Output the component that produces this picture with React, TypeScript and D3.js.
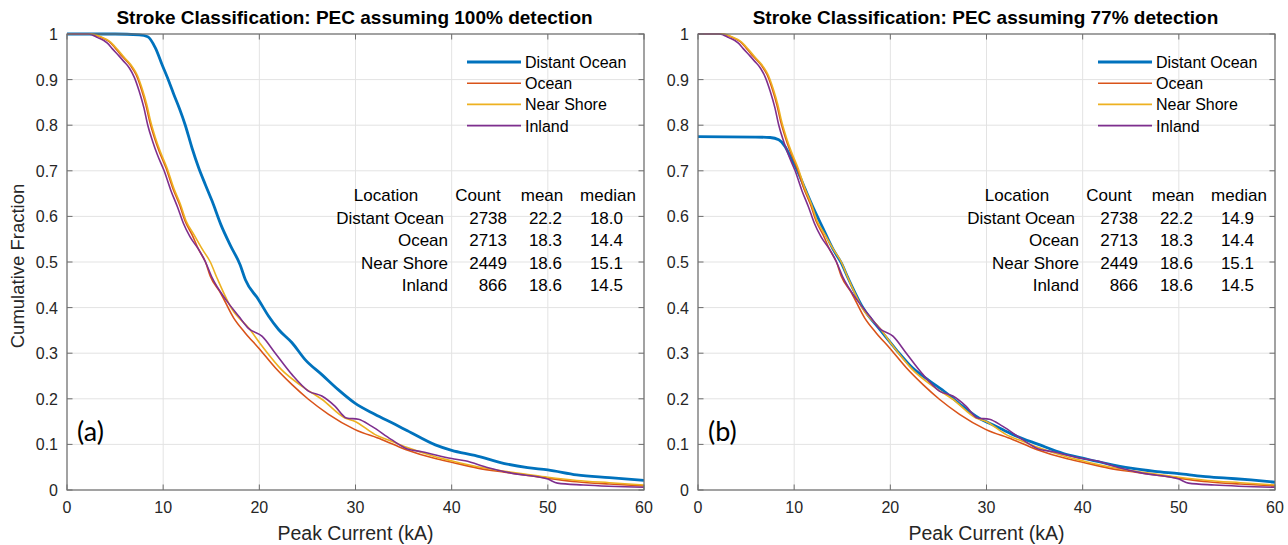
import React, { useEffect, useRef } from "react";
import * as d3 from "d3";

type Pt = [number, number];

const seriesNames = ["Distant Ocean", "Ocean", "Near Shore", "Inland"];
const seriesColors = ["#0072BD", "#D95319", "#EDB120", "#7E2F8E"];

const xTicks = [0, 10, 20, 30, 40, 50, 60];
const yTicks = [0, 0.1, 0.2, 0.3, 0.4, 0.5, 0.6, 0.7, 0.8, 0.9, 1];

const distantOcean100: Pt[] = [
  [0, 1], [5, 1], [7.5, 0.998], [8.4, 0.994], [9.2, 0.969], [9.9, 0.932], [10.6, 0.896], [11.1, 0.868],
  [11.7, 0.836], [12.3, 0.8], [13.0, 0.75], [13.7, 0.706], [14.4, 0.669], [15.1, 0.633], [16.0, 0.582],
  [17.0, 0.536], [18.0, 0.494], [18.55, 0.461], [19.9, 0.418], [20.97, 0.381], [22.0, 0.352], [23.4, 0.323],
  [24.76, 0.286], [26.5, 0.253], [28.2, 0.22], [29.9, 0.191], [32.0, 0.166], [34.1, 0.144], [35.4, 0.13],
  [38.3, 0.099], [40, 0.087], [42.4, 0.076], [45.5, 0.058], [47.9, 0.049], [50, 0.044], [53, 0.033],
  [56.4, 0.027], [60, 0.021],
];

const distantOcean77: Pt[] = [
  [0, 0.775], [6, 0.774], [7.5, 0.773], [8.4, 0.768], [9.07, 0.753], [9.6, 0.731], [10.3, 0.702], [11.1, 0.662],
  [12.0, 0.618], [13.0, 0.574], [14.07, 0.527], [14.9, 0.498], [15.6, 0.465], [17.17, 0.399], [18.9, 0.352],
  [20.6, 0.308], [22.3, 0.268], [24.1, 0.239], [25.8, 0.213], [27.5, 0.184], [29.2, 0.158], [30.97, 0.14],
  [32.7, 0.122], [35.4, 0.1], [38, 0.08], [40, 0.07], [42.5, 0.058], [45, 0.048], [47.5, 0.041], [50, 0.036],
  [52.5, 0.03], [55, 0.026], [57.5, 0.022], [60, 0.017],
];

const ocean: Pt[] = [
  [0, 1], [2.5, 1], [3.4, 0.994], [4.4, 0.983], [4.9, 0.972], [5.6, 0.954], [6.1, 0.943], [6.7, 0.928],
  [7.2, 0.91], [7.7, 0.881], [8.2, 0.845], [8.6, 0.808], [9.1, 0.772], [9.6, 0.742], [10.3, 0.706], [11.0, 0.662],
  [11.7, 0.626], [12.3, 0.589], [13.0, 0.56], [13.7, 0.527], [14.4, 0.5], [14.9, 0.469], [15.97, 0.432],
  [17.34, 0.377], [18.55, 0.344], [19.9, 0.312], [21.66, 0.268], [23.4, 0.231], [25.1, 0.199], [27.2, 0.166],
  [29.9, 0.133], [32.7, 0.111], [35.2, 0.089], [38.3, 0.069], [40, 0.061], [42.7, 0.048], [45.5, 0.039],
  [47.9, 0.032], [50, 0.026], [53, 0.018], [56.4, 0.013], [60, 0.009],
];

const nearShore: Pt[] = [
  [0, 1], [2.6, 1], [3.5, 0.994], [4.5, 0.983], [5.0, 0.972], [5.7, 0.955], [6.2, 0.943], [6.8, 0.928],
  [7.3, 0.91], [7.8, 0.881], [8.3, 0.845], [8.7, 0.808], [9.2, 0.772], [9.7, 0.742], [10.4, 0.706], [11.1, 0.662],
  [11.8, 0.626], [12.4, 0.589], [13.2, 0.56], [14.1, 0.527], [14.9, 0.5], [15.6, 0.465], [17.17, 0.396],
  [18.9, 0.355], [20.3, 0.315], [22.3, 0.264], [24.4, 0.228], [26.5, 0.199], [28.9, 0.158], [29.9, 0.151],
  [32.0, 0.122], [34.1, 0.104], [35.4, 0.093], [38.3, 0.073], [40, 0.064], [42.7, 0.051], [45.5, 0.041],
  [47.9, 0.034], [50, 0.028], [53, 0.021], [56.4, 0.016], [60, 0.011],
];

const inland: Pt[] = [
  [0, 1], [2.2, 1], [3.2, 0.992], [4.2, 0.98], [4.7, 0.968], [5.4, 0.952], [5.9, 0.94], [6.5, 0.925],
  [7.0, 0.905], [7.5, 0.875], [8.0, 0.838], [8.4, 0.8], [8.9, 0.765], [9.4, 0.735], [10.1, 0.7], [10.8, 0.657],
  [11.5, 0.62], [12.1, 0.585], [12.8, 0.555], [13.7, 0.527], [14.4, 0.5], [15.1, 0.465], [16.5, 0.418],
  [17.86, 0.381], [18.9, 0.354], [20.3, 0.337], [21.66, 0.3], [23.4, 0.253], [25.1, 0.217], [26.5, 0.206],
  [27.86, 0.184], [29.07, 0.158], [30.3, 0.155], [31.66, 0.14], [33.7, 0.111], [35.4, 0.09], [36.9, 0.084],
  [40, 0.069], [41.4, 0.064], [43.8, 0.049], [46.2, 0.037], [50, 0.024], [51, 0.015], [53.7, 0.011], [60, 0.006],
];

const tableHeaders = ["Location", "Count", "mean", "median"];
const tableLocations = ["Distant Ocean", "Ocean", "Near Shore", "Inland"];
const tableCounts = ["2738", "2713", "2449", "866"];
const tableMeans = ["22.2", "18.3", "18.6", "18.6"];
const tableMedians100 = ["18.0", "14.4", "15.1", "14.5"];
const tableMedians77 = ["14.9", "14.4", "15.1", "14.5"];

const panelTitles = [
  "Stroke Classification: PEC assuming 100% detection",
  "Stroke Classification: PEC assuming 77% detection",
];
const panelLetters = ["(a)", "(b)"];
const xLabel = "Peak Current (kA)";
const yLabel = "Cumulative Fraction";

const FONT = "'Liberation Sans', Arial, Helvetica, sans-serif";

export default function App() {
  const ref = useRef<SVGSVGElement>(null);

  useEffect(() => {
    const svg = d3.select(ref.current);
    svg.selectAll("*").remove();
    svg.append("rect").attr("width", 1288).attr("height", 545).attr("fill", "#fff");

    const panels = [
      { left: 67, series: [distantOcean100, ocean, nearShore, inland], medians: tableMedians100 },
      { left: 698, series: [distantOcean77, ocean, nearShore, inland], medians: tableMedians77 },
    ];
    const W = 577;
    const top = 34;
    const bottom = 490;

    panels.forEach((p, pi) => {
      const x = d3.scaleLinear().domain([0, 60]).range([p.left, p.left + W]);
      const y = d3.scaleLinear().domain([0, 1]).range([bottom, top]);
      const g = svg.append("g");

      g.selectAll(".gx").data(xTicks).enter().append("line")
        .attr("x1", (d) => x(d)).attr("x2", (d) => x(d)).attr("y1", top).attr("y2", bottom)
        .attr("stroke", "#e3e3e3").attr("stroke-width", 1);
      g.selectAll(".gy").data(yTicks).enter().append("line")
        .attr("x1", p.left).attr("x2", p.left + W).attr("y1", (d) => y(d)).attr("y2", (d) => y(d))
        .attr("stroke", "#e3e3e3").attr("stroke-width", 1);

      const line = d3.line<Pt>().x((d) => x(d[0])).y((d) => y(d[1])).curve(d3.curveMonotoneX);
      const clipId = `clip${pi}`;
      svg.append("clipPath").attr("id", clipId).append("rect")
        .attr("x", p.left).attr("y", top - 2).attr("width", W).attr("height", bottom - top + 2);
      p.series.forEach((s, si) => {
        g.append("path").datum(s).attr("d", line).attr("fill", "none")
          .attr("clip-path", `url(#${clipId})`)
          .attr("stroke", seriesColors[si]).attr("stroke-width", si === 0 ? 2.8 : 1.6)
          .attr("stroke-linejoin", "round");
      });

      g.append("rect").attr("x", p.left).attr("y", top).attr("width", W).attr("height", bottom - top)
        .attr("fill", "none").attr("stroke", "#6e6e6e").attr("stroke-width", 1.2);

      const tl = 5.5;
      xTicks.forEach((t) => {
        g.append("line").attr("x1", x(t)).attr("x2", x(t)).attr("y1", bottom).attr("y2", bottom - tl).attr("stroke", "#6e6e6e");
        g.append("line").attr("x1", x(t)).attr("x2", x(t)).attr("y1", top).attr("y2", top + tl).attr("stroke", "#6e6e6e");
        g.append("text").attr("x", x(t)).attr("y", bottom + 23).attr("text-anchor", "middle")
          .attr("font-family", FONT).attr("font-size", 16).attr("fill", "#262626").text(String(t));
      });
      yTicks.forEach((t) => {
        g.append("line").attr("x1", p.left).attr("x2", p.left + tl).attr("y1", y(t)).attr("y2", y(t)).attr("stroke", "#6e6e6e");
        g.append("line").attr("x1", p.left + W).attr("x2", p.left + W - tl).attr("y1", y(t)).attr("y2", y(t)).attr("stroke", "#6e6e6e");
        g.append("text").attr("x", p.left - 9).attr("y", y(t) + 6).attr("text-anchor", "end")
          .attr("font-family", FONT).attr("font-size", 16).attr("fill", "#262626").text(String(t));
      });

      g.append("text").attr("x", p.left + W / 2 - 1).attr("y", 24).attr("text-anchor", "middle")
        .attr("font-family", FONT).attr("font-size", 19).attr("font-weight", "bold").attr("fill", "#000")
        .text(panelTitles[pi]);

      g.append("text").attr("x", p.left + W / 2).attr("y", 540).attr("text-anchor", "middle")
        .attr("font-family", FONT).attr("font-size", 19.5).attr("fill", "#262626").text(xLabel);

      if (pi === 0) {
        g.append("text").attr("transform", `translate(24,${(top + bottom) / 2 + 4}) rotate(-90)`)
          .attr("text-anchor", "middle").attr("font-family", FONT).attr("font-size", 18.5)
          .attr("fill", "#262626").text(yLabel);
      }

      seriesNames.forEach((n, si) => {
        const ly = 62 + si * 21.2;
        g.append("line").attr("x1", p.left + 400).attr("x2", p.left + 454).attr("y1", ly).attr("y2", ly)
          .attr("stroke", seriesColors[si]).attr("stroke-width", si === 0 ? 2.8 : 1.6);
        g.append("text").attr("x", p.left + 458).attr("y", ly + 6).attr("font-family", FONT)
          .attr("font-size", 16).attr("fill", "#000").text(n);
      });

      const colX = [p.left + 381, p.left + 440, p.left + 495, p.left + 556];
      const headX = [p.left + 319, p.left + 411, p.left + 475, p.left + 541];
      const rowY0 = 201;
      const dy = 22.6;
      tableHeaders.forEach((h, i) => {
        g.append("text").attr("x", headX[i]).attr("y", rowY0).attr("text-anchor", "middle")
          .attr("font-family", FONT).attr("font-size", 17).attr("fill", "#000").text(h);
      });
      tableLocations.forEach((loc, r) => {
        const vals = [loc, tableCounts[r], tableMeans[r], p.medians[r]];
        vals.forEach((v, c) => {
          const shift = c === 0 && r === 0 ? -4 : 0;
          g.append("text").attr("x", colX[c] + shift).attr("y", rowY0 + dy * (r + 1)).attr("text-anchor", "end")
            .attr("font-family", FONT).attr("font-size", 17).attr("fill", "#000").text(v);
        });
      });

      g.append("text").attr("x", p.left + 10).attr("y", 441).attr("font-family", "Lato, 'Open Sans', sans-serif")
        .attr("font-size", 27).attr("fill", "#000").text(panelLetters[pi]);
    });
  }, []);

  return (
    <svg ref={ref} width={1288} height={545} style={{ position: "absolute", left: 0, top: 0, display: "block" }} />
  );
}
